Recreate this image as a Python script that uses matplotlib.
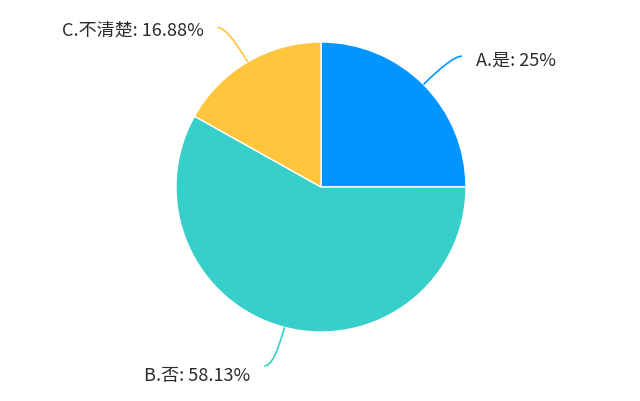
import numpy as np
import matplotlib.pyplot as plt
from matplotlib.path import Path
from matplotlib.patches import PathPatch

plt.rcParams['font.family'] = ['Noto Sans CJK SC', 'DejaVu Sans']

# data
labels = ['A.是', 'B.否', 'C.不清楚']
values = [25, 58.13, 16.88]
colors = ['#0095ff', '#36cfc9', '#ffc53d']

W, H = 640, 401
cx, cy, r = 321, H - 187, 145

fig = plt.figure(figsize=(W / 100, H / 100), dpi=100)
ax = fig.add_axes([0, 0, 1, 1])

wedges, _ = ax.pie(values, colors=colors, startangle=90, counterclock=False,
                   center=(cx, cy), radius=r,
                   wedgeprops=dict(edgecolor='white', linewidth=1))

ax.set_xlim(0, W)
ax.set_ylim(0, H)
ax.set_aspect('equal')
ax.axis('off')

# labels with smooth leader lines
for w, lab, val, col in zip(wedges, labels, values, colors):
    mid = np.deg2rad((w.theta1 + w.theta2) / 2)
    ca, sa = np.cos(mid), np.sin(mid)
    p0 = (cx + r * ca, cy + r * sa)
    p1 = (cx + (r + 40) * ca, cy + (r + 40) * sa)
    side = 1 if ca >= 0 else -1
    p2 = (p1[0] + side * 10, p1[1])
    path = Path([p0, p1, p2], [Path.MOVETO, Path.CURVE3, Path.CURVE3])
    ax.add_patch(PathPatch(path, facecolor='none', edgecolor=col, lw=1.2))
    txt = f'{lab}: {val:g}%'
    dy = -10 if sa < 0 else -4
    ax.text(p2[0] + side * 14, p2[1] + dy, txt, fontsize=13, color='#2b2b2b',
            ha='left' if side > 0 else 'right', va='center')

fig.savefig('out.png', dpi=100)
